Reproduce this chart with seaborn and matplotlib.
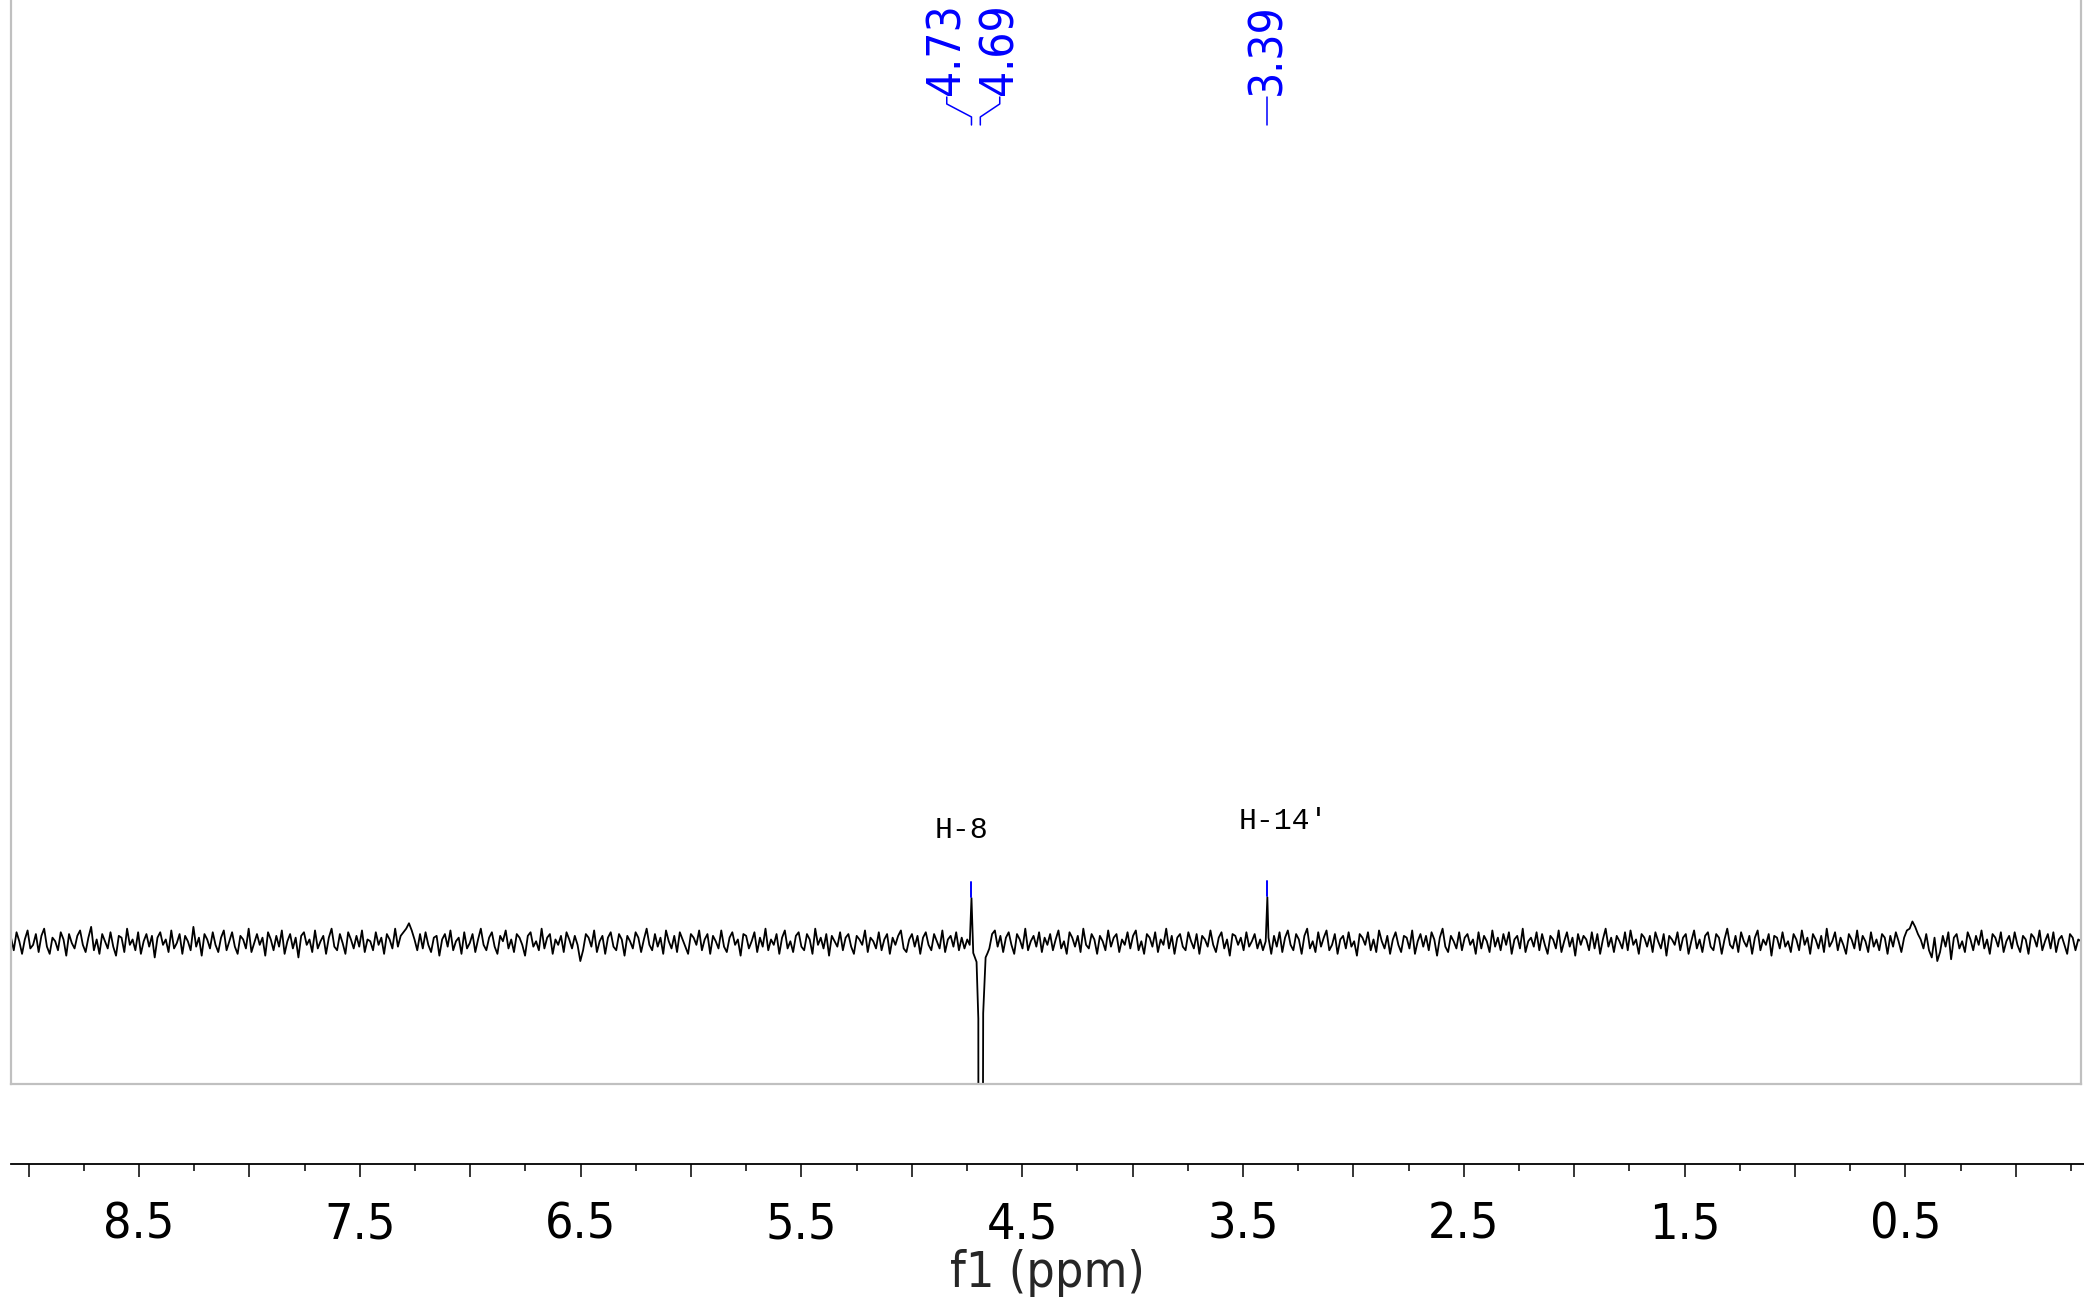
import numpy as np
import pandas as pd
import matplotlib
matplotlib.use("Agg")
import matplotlib.pyplot as plt
from matplotlib.ticker import MultipleLocator, FuncFormatter
from matplotlib.transforms import blended_transform_factory
import seaborn as sns

# ---------------- data ----------------
# baseline noise (intensity units), read along the spectrum from 9.08 ppm down to -0.295 ppm
noise = [
    3, -4, 6, 1, -6, 2, 7, -3, -1, 5, -5, 4, 8, -2, -6, 3, 1, -4, 6, 2, -7, 5, 0, -3, 4,
    7, -1, -5, 3, 9, -4, 2, -6, 5, 1, -3, 6, -2, -7, 4, 3, -5, 8, -1, 2, -4, 6, -6, 1, 5,
    -2, 4, -8, 3, 6, -1, 2, -5, 7, -3, 0, 5, -6, 4, 1, -4, 9, -2, 3, -7, 5, 2, -3, 6, -1,
    -5, 3, 7, -4, 1, 6, -2, -6, 4, 2, -3, 8, -5, 0, 5, -1, 3, -7, 6, 2, -4, 4, -2, 7, -6,
    1, 5, -3, 3, -8, 4, 6, -1, 2, -5, 7, -3, 1, 4, -6, 3, 8, -2, -4, 5, 0, -6, 6, 2, -3,
    4, -2, 7, -5, 2, 1, -4, 6, -1, 3, -6, 5, 2, -3, 8, -2, 4, 6, 8, 11, 7, 2, -4, 5, -3,
    6, -1, -5, 3, 4, -7, 2, 5, -2, 7, -4, 1, 3, -6, 6, -3, 0, 5, -5, 2, 8, -1, -4, 3, 6,
    -2, -6, 4, 1, 7, -3, 2, -5, 5, 3, -1, -7, 4, 6, -2, 1, -4, 8, -3, 3, 5, -6, 2, -1, 4,
    -5, 6, 2, -3, 4, -1, -10, -4, 5, 3, -2, 7, -5, 1, 4, -6, 3, 6, -2, -4, 5, 2, -7, 4, 1,
    -3, 6, 3, -5, 2, 8, -1, -4, 5, -2, 3, -6, 7, 1, -3, 4, -5, 6, 2, -2, -6, 5, 3, -1, 7,
    -4, 2, 5, -6, 4, 1, -3, 7, -2, -5, 3, 6, -1, 2, -7, 5, 4, -3, 1, 6, -5, 3, -2, 8, -4,
    2, -1, 5, -6, 3, 7, -3, 1, -5, 4, 6, -2, -4, 5, 2, -6, 8, -1, 3, -3, 5, -7, 4, 1, -2,
    6, -4, 3, 5, -2, -6, 4, 2, -1, 7, -5, 3, 1, -3, 6, -4, 2, 5, -6, 3, -1, 4, 7, -3, -5,
    2, 5, -2, 4, -6, 3, 6, -1, -4, 5, 1, -3, 7, -5, 2, 4, -2, 6, -4, 3, -3, 2, 0, -2, 1,
    -1, 0, 2, 0, -3, 5, 7, -2, 4, -5, 3, 6, -1, -6, 5, 2, -3, 8, -4, 1, 4, -2, 6, -5, 3,
    -1, 5, -4, 2, 7, -3, 1, -6, 6, 3, -2, 4, -5, 8, -1, -3, 5, 2, -6, 4, 1, -4, 7, -2, 3,
    5, -5, 2, -1, 6, -3, 4, 7, -4, 1, -6, 5, 3, -2, 6, -5, 2, -1, 8, -3, 4, -6, 3, 5, -2,
    -4, 6, 1, -3, 5, -6, 4, 2, -2, 7, -1, -5, 3, 6, -3, 2, -7, 5, 4, -1, 3, -4, 6, -2, 1,
    5, -3, 2, -4, 1, 3, -6, 4, -2, 6, -5, 3, 7, -1, -4, 5, 2, -6, 4, 8, -3, 1, -5, 6, -2,
    3, 7, -4, -1, 5, -6, 2, 4, -3, 6, -2, 1, -7, 5, 3, -1, 6, -4, 2, -5, 7, 1, -3, 4, -6,
    2, 6, -1, -5, 4, 3, -3, 7, -6, 1, 5, -2, 4, -4, 6, 2, -7, 3, 8, -2, -5, 4, 1, -3, 6,
    -4, 3, 5, -1, 2, -6, 6, -3, 4, 1, -5, 7, -2, 3, -4, 5, -1, 6, -6, 2, 4, -3, 8, -5, 1,
    3, -2, 6, -4, 5, -1, -6, 4, 2, -3, 7, -5, 1, 6, -2, 3, -7, 5, -1, 4, 2, -4, 6, -3, 5,
    -6, 2, 8, -2, 3, -5, 4, 1, -3, 6, -4, 7, -1, 2, -6, 5, 3, -2, 4, -5, 6, 1, -3, 5, -7,
    4, 2, -1, 6, -4, 3, 5, -6, 1, 7, -3, 2, -5, 4, 6, -2, -4, 5, 3, -6, 2, 8, -1, -3, 4,
    -5, 6, 1, -2, 4, -6, 3, 7, -4, 2, -1, 5, -7, 4, 3, -3, 6, -2, 1, -5, 5, 2, -4, 7, -1,
    3, -6, 5, 2, -3, 4, -5, 8, -2, 1, 6, -4, 3, -1, -6, 5, 2, -3, 7, -4, 4, 1, -5, 6, -2,
    2, -4, 5, 3, -6, 4, -2, 6, 1, -5, 3, 7, 8, 12, 9, 5, 2, -3, 5, -4, -8, 3, -10, -5, 4,
    -2, 6, -9, 3, 5, -3, 1, -5, 6, 2, -4, 4, -1, 7, -3, 2, -6, 5, 3, -2, 6, -5, 1, 4, -3,
    6, -1, -5, 4, 2, -6, 5, 3, -2, 7, -4, 1, 5, -3, 6, -5, 2, 4, -1, -6, 5, 3, -4, 2, 1,
]
spectrum_start, spectrum_end = 9.08, -0.295

# signal region (H-8 anti-phase signal and H-14' peak), same intensity units
signal_ppm = [4.738, 4.730, 4.722, 4.707, 4.699, 4.697, 4.684, 4.677, 4.666, 4.657, 3.390]
signal_int = [-1, 25, -5.5, -10.5, -42, -390, -390, -39, -8, -5.5, 25.5]

# peak picking labels
pick_ppm = [4.73, 4.69, 3.39]
pick_labels = ["4.73", "4.69", "3.39"]
marked_ppm = [4.73, 3.39]
marked_int = [25, 25.5]

# assignments
assign_labels = ["H-8", "H-14'"]
assign_ppm = [4.775, 3.316]
assign_int = [63, 68]

tick_values = [8.5, 7.5, 6.5, 5.5, 4.5, 3.5, 2.5, 1.5, 0.5]

# ---------------- build table ----------------
grid = np.linspace(spectrum_start, spectrum_end, len(noise))
noise_arr = np.array(noise, dtype=float)
keep = (grid > 4.742) | (grid < 4.652)
ppm_all = np.concatenate([grid[keep], signal_ppm])
int_all = np.concatenate([noise_arr[keep], signal_int])
order = np.argsort(-ppm_all)
df = pd.DataFrame({"ppm": ppm_all[order], "intensity": int_all[order]})

# ---------------- style ----------------
sns.set_style("white")
plt.rcParams["font.family"] = ["DejaVu Sans"]
plt.rcParams["font.stretch"] = "condensed"

W, H = 2084, 1300
fig = plt.figure(figsize=(W / 100, H / 100), dpi=100)
ax_left, ax_w = 11 / W, 2070 / W
ax_bottom = 1 - 1084 / H
ax = fig.add_axes([ax_left, ax_bottom, ax_w, 1084 / H])

sns.lineplot(data=df, x="ppm", y="intensity", ax=ax, color="black",
             linewidth=1.3, estimator=None, sort=False)
ax.set_xlim(spectrum_start, spectrum_end)
ax.set_ylim(-78.3, 523.9)
ax.set_xticks([])
ax.set_yticks([])
ax.set_xlabel("")
ax.set_ylabel("")
ax.grid(False)
for s in ["left", "right", "bottom"]:
    ax.spines[s].set_color("#c0c0c0")
    ax.spines[s].set_linewidth(1.6)
ax.spines["top"].set_visible(False)

# peak markers (blue ticks above peaks)
for p, h in zip(marked_ppm, marked_int):
    ax.plot([p, p], [h + 0.6, h + 9], color="blue", lw=1.4)

# top peak labels with connectors
trans = blended_transform_factory(ax.transData, ax.transAxes)
offsets = [0.112, -0.088, 0.0]
for p, lab, off in zip(pick_ppm, pick_labels, offsets):
    xt = p + off
    ax.plot([xt, xt, p, p], [0.9105, 0.9041, 0.8921, 0.8847], transform=trans,
            color="blue", lw=1.1, clip_on=False)
    ax.text(xt, 0.912, lab, rotation=90, ha="center", va="bottom",
            transform=trans, color="blue", fontsize=33)

# assignment labels
for lab, p, h in zip(assign_labels, assign_ppm, assign_int):
    ax.text(p, h, lab, ha="center", va="center", fontsize=21.5,
            family=["Liberation Mono", "DejaVu Sans Mono"], fontstretch="normal",
            color="black")

# detached ppm axis
ax2 = fig.add_axes([ax_left, 1 - 1164 / H, (W - 11) / W, 1e-6])
ax2.set_xlim(spectrum_start, spectrum_start - (W - 11) / (2070 / (spectrum_start - spectrum_end)))
ax2.set_yticks([])
for s in ["left", "right", "top"]:
    ax2.spines[s].set_visible(False)
ax2.spines["bottom"].set_color("black")
ax2.spines["bottom"].set_linewidth(1.3)
ax2.xaxis.set_major_locator(MultipleLocator(0.5))
ax2.xaxis.set_minor_locator(MultipleLocator(0.25))


def fmt(v, pos):
    for t in tick_values:
        if abs(v - t) < 1e-6:
            return f"{t:.1f}"
    return ""


ax2.xaxis.set_major_formatter(FuncFormatter(fmt))
ax2.tick_params(axis="x", which="major", direction="out", length=9.4, width=1.1,
                pad=17, labelsize=36, colors="black", bottom=True)
ax2.tick_params(axis="x", which="minor", direction="out", length=4.8, width=1.1,
                colors="black", bottom=True)
ax2.set_xlabel("f1 (ppm)", fontsize=36, labelpad=0)
ax2.set_facecolor("none")

fig.savefig("out.png", dpi=100)
